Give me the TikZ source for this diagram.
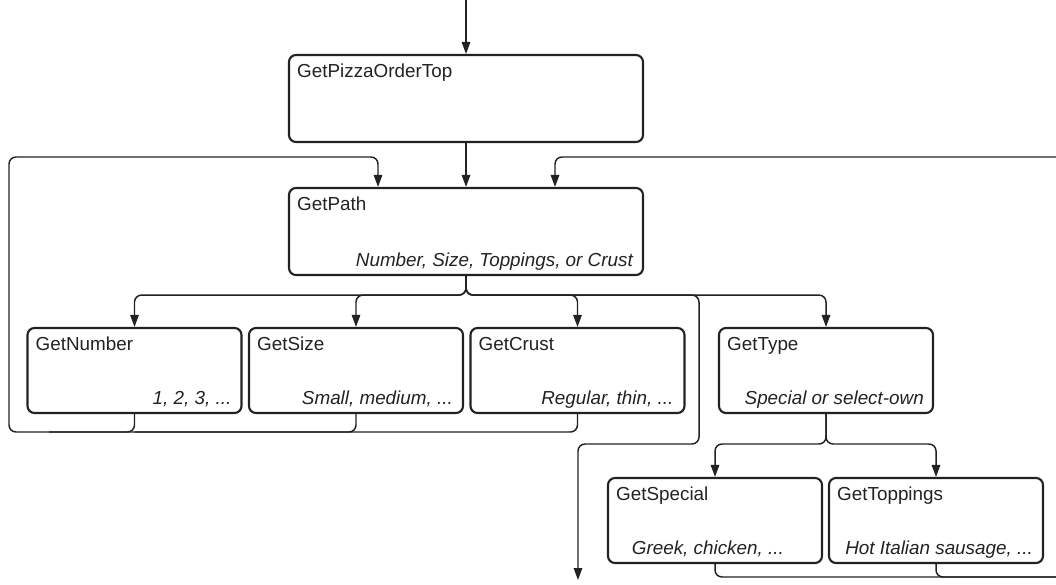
\documentclass[tikz,border=0pt]{standalone}
\usepackage{fontspec}
\setmainfont{Liberation Sans}
\usetikzlibrary{arrows.meta,calc}

\newlength\px
\setlength\px{0.025cm}
\definecolor{ink}{HTML}{222222}

\tikzset{
  routine/.style={draw=ink, line width=1.5pt, rounded corners=5pt,
    minimum width=214\px, minimum height=85\px, inner sep=0pt},
  wide/.style={minimum width=354\px, minimum height=87\px},
  title/.style={anchor=base west, inner sep=0pt, text=ink,
    font=\fontsize{13.4}{16}\selectfont},
  hint/.style={anchor=base east, inner sep=0pt, text=ink,
    font=\fontsize{13.4}{16}\selectfont\itshape},
  wire/.style={draw=ink, line width=1.05pt, rounded corners=5pt},
  flow/.style={wire, -{Triangle[length=8.5pt,width=6pt]}},
}

\begin{document}
\begin{tikzpicture}[x=1\px, y=-1\px]
  \useasboundingbox (0,0) rectangle (1056,584);
  \clip (0,0) rectangle (1056,584);

  % routines
  \node[routine,wide] (top) at (466,98.5) {};
  \node[routine,wide] (path) at (466,231.5) {};
  \node[routine] (number) at (134.5,370.5) {};
  \node[routine] (size) at (356,370.5) {};
  \node[routine] (crust) at (577.5,370.5) {};
  \node[routine] (type) at (826,370.5) {};
  \node[routine] (special) at (715,520.5) {};
  \node[routine] (toppings) at (936,520.5) {};

  % names top left, choices bottom right
  \foreach \n/\t in {top/GetPizzaOrderTop, path/GetPath, number/GetNumber,
      size/GetSize, crust/GetCrust, type/GetType, special/GetSpecial,
      toppings/GetToppings}
    \node[title] (\n-t) at ($(\n.north west)+(9,24)$) {\t};
  \foreach \n/\d/\h in {path/11/{Number, Size, Toppings, or Crust},
      number/11/{1, 2, 3, ...}, size/11/{Small, medium, ...},
      crust/12/{Regular, thin, ...}, type/10/{Special or select-own},
      special/39/{Greek, chicken, ...}, toppings/11/{Hot Italian sausage, ...}}
    \node[hint] (\n-h) at ($(\n.south east)+(-\d,-10)$) {\h};

  % way in
  \coordinate (entry) at (top.north |- 0,0);
  \draw[flow] (entry) -- (top.north);
  \draw[flow] (top.south) -- (path.north);

  % back to GetPath from the left
  \coordinate (inl) at ($(path.north)+(-88,0)$);
  \coordinate (backl) at (9,432);
  \coordinate (upl) at (9,157);
  \draw[flow] (crust.south) |- (backl) -- (upl) -| (inl);
  \draw[wire] (size.south) |- (number.south |- backl);
  \draw[wire] (number.south) |- ($(backl)+(40,0)$);

  % choices out of GetPath
  \coordinate (fork) at ($(path.south)+(0,19)$);
  \foreach \n in {number,size,crust,type}
    \draw[flow] (path.south) -- (fork) -| (\n.north);
  \coordinate (drop) at (699,444);
  \coordinate (exit) at (578,580);
  \draw[flow] (path.south) -- (fork) -| (drop) -| (exit);

  % special or own toppings
  \coordinate (fork2) at (type.south |- drop);
  \foreach \n in {special,toppings}
    \draw[flow] (type.south) -- (fork2) -| (\n.north);

  % back to GetPath from the right
  \coordinate (inr) at ($(path.north)+(89,0)$);
  \coordinate (backr) at (1070,577);
  \coordinate (upr) at (1070,157);
  \draw[flow] (special.south) |- (backr) -- (upr) -| (inr);
  \draw[wire] (toppings.south) |- (backr);
\end{tikzpicture}
\end{document}
